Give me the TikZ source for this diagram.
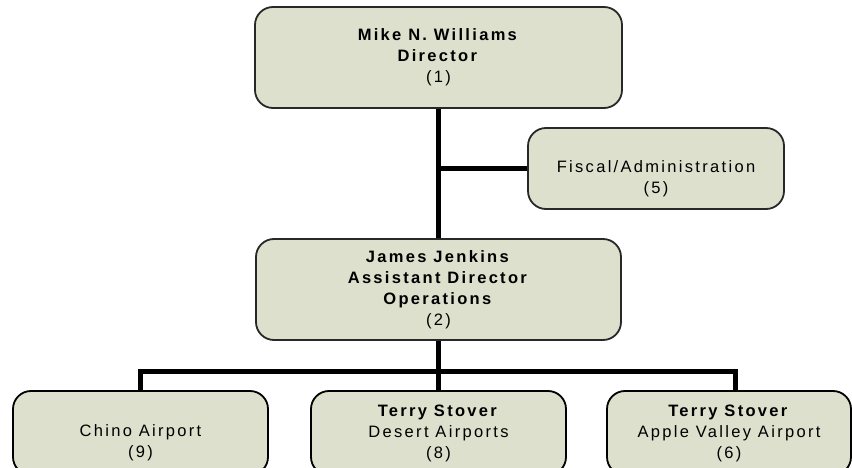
\documentclass[tikz,border=0pt]{standalone}
\usepackage{fontspec}
\setmainfont{Liberation Sans}[LetterSpace=14]
\definecolor{boxfill}{RGB}{221,224,204}
\definecolor{boxline}{RGB}{40,40,40}
\begin{document}
\begin{tikzpicture}[x=1pt,y=-1pt,
  box/.style={draw=boxline, line width=1.8pt, fill=boxfill, rounded corners=18pt,
    align=center, font=\fontsize{16.5}{21}\selectfont, inner sep=0pt},
  conn/.style={line width=5pt}]
\useasboundingbox (0,0) rectangle (852,468);
\node[box, minimum width=367pt, minimum height=101pt] (dir) at (438.5,57.5)
  {\textbf{Mike N. Williams}\\\textbf{Director}\\(1)};
\node[box, minimum width=256pt, minimum height=81pt] (fis) at (656,168.5)
  {\vphantom{T}\\Fiscal/Administration\\(5)};
\node[box, minimum width=365pt, minimum height=101pt] (ast) at (438.5,289.5)
  {\textbf{James Jenkins}\\\textbf{Assistant Director}\\\textbf{Operations}\\(2)};
\node[box, draw=black, minimum width=255pt, minimum height=84pt] (chi) at (140.5,433)
  {\vphantom{T}\\Chino Airport\\(9)};
\node[box, draw=black, minimum width=255pt, minimum height=84pt] (des) at (438.5,433)
  {\textbf{Terry Stover}\\Desert Airports\\(8)};
\node[box, draw=black, minimum width=244pt, minimum height=84pt] (app) at (729,433)
  {\textbf{Terry Stover}\\Apple Valley Airport\\(6)};
\coordinate (br) at (dir.south |- fis.west);
\coordinate (bus) at (438.5,371);
\draw[conn] (dir.south) -- (ast.north);
\draw[conn] (br) -- (fis.west);
\draw[conn] (ast.south) -- (bus);
\draw[conn] (bus) -| (chi.north);
\draw[conn] (bus) -| ([xshift=6pt]app.north);
\draw[conn] (bus) -- (des.north);
\end{tikzpicture}
\end{document}
